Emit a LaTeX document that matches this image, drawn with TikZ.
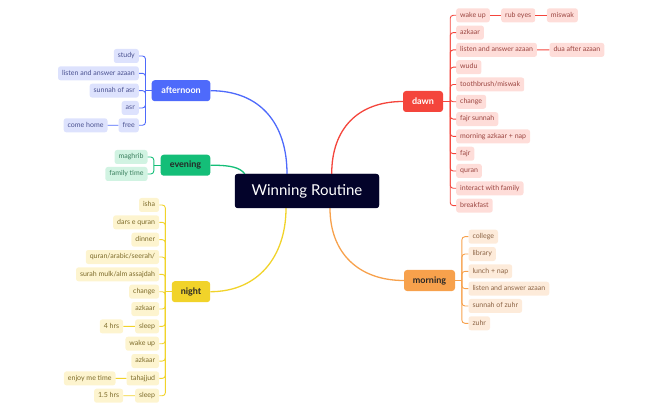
\documentclass[tikz,border=0pt]{standalone}
\usepackage{fontspec}
\setmainfont{Lato}
\definecolor{cred}{HTML}{F4453C}
\definecolor{credl}{HTML}{FEDDD9}
\definecolor{credt}{HTML}{9B4540}
\definecolor{cora}{HTML}{F7A14C}
\definecolor{coral}{HTML}{FDEBDA}
\definecolor{corat}{HTML}{8C6445}
\definecolor{cblue}{HTML}{4E6AFB}
\definecolor{cbluel}{HTML}{DDE2FD}
\definecolor{cbluet}{HTML}{4A5190}
\definecolor{cgreen}{HTML}{14BE78}
\definecolor{cgreenl}{HTML}{D1F3E2}
\definecolor{cgreent}{HTML}{3A7F5E}
\definecolor{cyel}{HTML}{F1D32A}
\definecolor{cyell}{HTML}{FDF4CF}
\definecolor{cyelt}{HTML}{7D6B2A}
\definecolor{cnavy}{HTML}{03032A}
\begin{document}
\begin{tikzpicture}[x=1pt,y=-1pt,
  leaf/.style={rounded corners=2.5pt, inner xsep=4pt, inner ysep=0pt, minimum height=14pt,
    font=\fontsize{7}{8}\selectfont, text height=5pt, text depth=1.5pt},
  sect/.style={rounded corners=3pt, inner xsep=0pt, inner ysep=0pt, minimum height=21pt,
    font=\fontsize{9}{10}\selectfont\bfseries},
  dleaf/.style={leaf, fill=credl, text=credt},
  mleaf/.style={leaf, fill=coral, text=corat},
  aleaf/.style={leaf, fill=cbluel, text=cbluet},
  eleaf/.style={leaf, fill=cgreenl, text=cgreent},
  nleaf/.style={leaf, fill=cyell, text=cyelt},
  dline/.style={draw=cred, line width=0.9pt},
  mline/.style={draw=cora, line width=0.9pt},
  aline/.style={draw=cblue, line width=0.9pt},
  eline/.style={draw=cgreen, line width=0.9pt},
  nline/.style={draw=cyel, line width=0.9pt},
  mainline/.style={line width=1.3pt}
]
\useasboundingbox (0,0) rectangle (663,411);

% center
\node[fill=cnavy, text=white, rounded corners=3pt, minimum width=144pt, minimum height=34pt,
  inner sep=0pt, font=\fontsize{15}{17}\selectfont] (C) at (307,191) {Winning Routine};

% sections
\node[sect, fill=cred, text=white, minimum width=40pt] (dawn) at (423,101.5) {dawn};
\node[sect, fill=cora, text=black!85, minimum width=51pt] (morning) at (429.5,280.5) {morning};
\node[sect, fill=cblue, text=white, minimum width=58.6pt] (afternoon) at (181,90.7) {afternoon};
\node[sect, fill=cgreen, text=black!85, minimum width=49.6pt] (evening) at (185.5,165.2) {evening};
\node[sect, fill=cyel, text=black!85, minimum width=38.3pt] (night) at (191,291.7) {night};

% main curves
\coordinate (cb) at ([xshift=-20pt]C.north);
\coordinate (cr) at ([xshift=24.7pt]C.north);
\coordinate (cg) at ([xshift=10pt]C.north west);
\coordinate (cy) at ([xshift=-21pt]C.south);
\coordinate (co) at ([xshift=23pt]C.south);
\draw[mainline, cblue] (afternoon.east) .. controls +(50,0) and +(0,-50) .. (cb);
\draw[mainline, cred] (dawn.west) .. controls +(-45,0) and +(0,-45) .. (cr);
\draw[mainline, cgreen] (evening.east) .. controls +(22,0) and +(-5,-6) .. (cg);
\draw[mainline, cyel] (night.east) .. controls +(48,0) and +(0,48) .. (cy);
\draw[mainline, cora] (morning.west) .. controls +(-45,0) and +(0,45) .. (co);
\fill[cnavy, rounded corners=3pt] (C.south west) rectangle (C.north east);
\node[text=white, font=\fontsize{15}{17}\selectfont] (Ct) at (C.center) {Winning Routine};

% dawn
\coordinate (dj) at ([xshift=7pt]dawn.east);
\draw[dline] (dawn.east) -- (dj);
\foreach \t [count=\i] in {wake up, azkaar, listen and answer azaan, wudu, toothbrush/miswak, change,
  fajr sunnah, morning azkaar + nap, fajr, quran, interact with family, breakfast} {
  \node[dleaf, anchor=west] (d\i) at (456,{15.3+17.3*(\i-1)}) {\t};
  \draw[dline, rounded corners=3pt] (dj) |- (d\i.west);
}
\node[dleaf, anchor=west] (rub) at (501,15.3) {rub eyes};
\node[dleaf, anchor=west] (misw) at (546.7,15.3) {miswak};
\node[dleaf, anchor=west] (dua) at (549.3,49.9) {dua after azaan};
\draw[dline] (d1.east) -- (rub.west);
\draw[dline] (rub.east) -- (misw.west);
\draw[dline] (d3.east) -- (dua.west);

% morning
\coordinate (mj) at ([xshift=6.7pt]morning.east);
\draw[mline] (morning.east) -- (mj);
\foreach \t [count=\i] in {college, library, lunch + nap, listen and answer azaan, sunnah of zuhr, zuhr} {
  \node[mleaf, anchor=west] (m\i) at (468.3,{236.7+17.32*(\i-1)}) {\t};
  \draw[mline, rounded corners=3pt] (mj) |- (m\i.west);
}

% afternoon
\coordinate (aj) at ([xshift=-6pt]afternoon.west);
\draw[aline] (afternoon.west) -- (aj);
\foreach \t [count=\i] in {study, listen and answer azaan, sunnah of asr, asr, free} {
  \node[aleaf, anchor=east] (a\i) at (139,{56+17.32*(\i-1)}) {\t};
  \draw[aline, rounded corners=3pt] (aj) |- (a\i.east);
}
\node[aleaf, anchor=east] (home) at (107.7,125.3) {come home};
\draw[aline] (a5.west) -- (home.east);

% evening
\coordinate (ej) at ([xshift=-6.7pt]evening.west);
\draw[eline] (evening.west) -- (ej);
\foreach \t [count=\i] in {maghrib, family time} {
  \node[eleaf, anchor=east] (e\i) at (147.7,{157+17*(\i-1)}) {\t};
  \draw[eline, rounded corners=3pt] (ej) |- (e\i.east);
}

% night
\coordinate (nj) at ([xshift=-6.3pt]night.west);
\draw[nline] (night.west) -- (nj);
\foreach \t [count=\i] in {isha, dars e quran, dinner, quran/arabic/seerah/, surah mulk/alm assajdah,
  change, azkaar, sleep, wake up, azkaar, tahajjud, sleep} {
  \node[nleaf, anchor=east] (n\i) at (159.3,{205+17.34*(\i-1)}) {\t};
  \draw[nline, rounded corners=3pt] (nj) |- (n\i.east);
}
\node[nleaf, anchor=east] (h4) at (123.3,326.4) {4 hrs};
\node[nleaf, anchor=east] (enjoy) at (115.7,378.4) {enjoy me time};
\node[nleaf, anchor=east] (h15) at (123.3,395.7) {1.5 hrs};
\draw[nline] (n8.west) -- (h4.east);
\draw[nline] (n11.west) -- (enjoy.east);
\draw[nline] (n12.west) -- (h15.east);
\end{tikzpicture}
\end{document}
